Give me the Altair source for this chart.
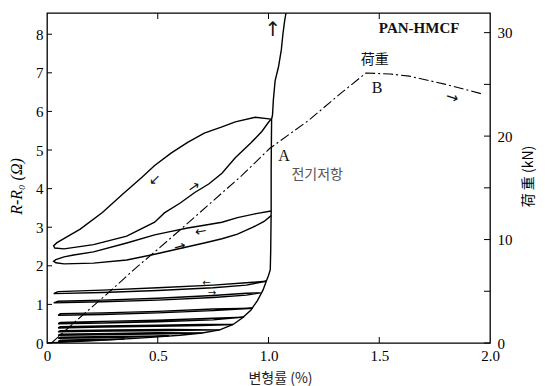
import altair as alt
import pandas as pd

# ---------------- data ----------------
# envelope of resistance (strain %, R-R0 ohm)
env_x = [0.0, 0.1, 0.2, 0.3, 0.4, 0.5, 0.6, 0.7, 0.78, 0.84, 0.88, 0.92, 0.95, 0.975, 0.99, 1.0,
         1.008, 1.01, 1.012, 1.012, 1.014, 1.018, 1.022, 1.03, 1.045, 1.058, 1.065, 1.073, 1.079]
env_y = [0.0, 0.03, 0.06, 0.09, 0.12, 0.16, 0.2, 0.26, 0.34, 0.48, 0.64, 0.85, 1.1, 1.37, 1.6, 1.75,
         1.9, 2.4, 3.4, 4.5, 5.8, 5.9, 6.3, 6.8, 7.15, 7.6, 8.0, 8.35, 8.55]

# top hysteresis loop (unload upper branch, reload lower branch)
top_x = [1.012, 0.94, 0.85, 0.79, 0.71, 0.635, 0.56, 0.486, 0.43, 0.34, 0.25, 0.15, 0.08, 0.045, 0.03,
         0.035, 0.077, 0.21, 0.36, 0.486, 0.53, 0.6, 0.667, 0.73, 0.79, 0.85, 0.92, 0.97, 1.0, 1.012]
top_y = [5.8, 5.85, 5.73, 5.6, 5.44, 5.2, 4.92, 4.6, 4.3, 3.85, 3.38, 2.95, 2.72, 2.6, 2.52,
         2.46, 2.44, 2.55, 2.77, 3.13, 3.37, 3.62, 3.9, 4.12, 4.4, 4.8, 5.18, 5.48, 5.72, 5.8]

# middle hysteresis loop
mid_x = [1.012, 0.95, 0.86, 0.79, 0.71, 0.635, 0.55, 0.486, 0.36, 0.21, 0.12, 0.077, 0.04, 0.03,
         0.04, 0.077, 0.21, 0.36, 0.486, 0.61, 0.71, 0.79, 0.86, 0.93, 0.98, 1.012]
mid_y = [3.42, 3.36, 3.25, 3.13, 3.05, 2.98, 2.88, 2.8, 2.59, 2.36, 2.28, 2.23, 2.16, 2.12,
         2.08, 2.05, 2.07, 2.15, 2.3, 2.46, 2.59, 2.7, 2.82, 3.0, 3.15, 3.3]

# thin low-strain loops: (x, y) going out along the lower line and back along the upper line
h1_x = [0.03, 0.25, 0.5, 0.75, 0.9, 0.99, 0.9, 0.75, 0.5, 0.25, 0.05, 0.03]
h1_y = [1.28, 1.31, 1.36, 1.43, 1.5, 1.6, 1.56, 1.5, 1.43, 1.37, 1.33, 1.28]
h2_x = [0.03, 0.25, 0.5, 0.75, 0.9, 0.965, 0.9, 0.75, 0.5, 0.25, 0.05, 0.03]
h2_y = [1.04, 1.07, 1.11, 1.18, 1.24, 1.3, 1.29, 1.23, 1.16, 1.11, 1.08, 1.04]
h3_x = [0.05, 0.25, 0.5, 0.75, 0.93, 0.75, 0.5, 0.25, 0.06, 0.05]
h3_y = [0.72, 0.74, 0.78, 0.84, 0.9, 0.88, 0.82, 0.78, 0.76, 0.72]
h4_x = [0.05, 0.25, 0.5, 0.75, 0.89, 0.75, 0.5, 0.25, 0.06, 0.05]
h4_y = [0.5, 0.52, 0.55, 0.6, 0.67, 0.64, 0.59, 0.56, 0.53, 0.5]
h5_x = [0.05, 0.25, 0.5, 0.7, 0.84, 0.7, 0.5, 0.25, 0.06, 0.05]
h5_y = [0.39, 0.41, 0.43, 0.45, 0.48, 0.48, 0.46, 0.44, 0.42, 0.39]
h6_x = [0.05, 0.3, 0.55, 0.78, 0.55, 0.3, 0.06, 0.05]
h6_y = [0.29, 0.31, 0.32, 0.34, 0.35, 0.34, 0.32, 0.29]
h7_x = [0.05, 0.3, 0.55, 0.7, 0.5, 0.3, 0.06, 0.05]
h7_y = [0.2, 0.22, 0.24, 0.26, 0.27, 0.25, 0.23, 0.2]
h8_x = [0.05, 0.3, 0.55, 0.3, 0.06, 0.05]
h8_y = [0.12, 0.14, 0.18, 0.17, 0.15, 0.12]
h9_x = [0.05, 0.2, 0.35, 0.2, 0.06, 0.05]
h9_y = [0.04, 0.07, 0.1, 0.09, 0.07, 0.04]

# load curve (strain %, kN)
load_x = [0.02, 0.135, 0.29, 0.39, 0.486, 0.61, 0.88, 1.005, 1.18, 1.33, 1.44, 1.55, 1.635, 1.80, 1.96]
load_kn = [0.0, 2.2, 5.1, 7.05, 8.8, 11.1, 16.2, 18.8, 21.5, 24.2, 26.1, 26.0, 25.8, 25.0, 24.1]

# tick values
x_ticks = [0, 0.5, 1.0, 1.5, 2.0]
x_inner_ticks = [0.5, 1.0, 1.5]
r_ticks = [0, 1, 2, 3, 4, 5, 6, 7, 8]
kn_labels = [0, 10, 20, 30]
kn_ticks = [0, 5, 10, 15, 20, 25, 30]

# annotations
serif_txt = ["PAN-HMCF", "A", "B"]
serif_x = [1.68, 1.07, 1.49]
serif_y = [8.16, 4.84, 6.61]
serif_w = ["bold", "normal", "normal"]
cjk_txt = ["荷重", "전기저항"]
cjk_x = [1.48, 1.22]
cjk_y = [7.33, 4.35]
cjk_col = ["#111111", "#555555"]
arrow_txt = ["↑", "→", "←", "→", "←", "→", "←", "→"]
arrow_x = [1.02, 1.83, 0.488, 0.664, 0.695, 0.60, 0.72, 0.745]
arrow_y = [8.1, 6.37, 4.22, 4.04, 2.88, 2.49, 1.56, 1.30]
arrow_a = [0, 18, 315, 326, 350, 345, 0, 0]
arrow_s = [20, 15, 14, 14, 14, 14, 10, 10]

# ---------------- tables ----------------
rows = []
series = [("env", env_x, env_y), ("top", top_x, top_y), ("mid", mid_x, mid_y),
          ("h1", h1_x, h1_y), ("h2", h2_x, h2_y), ("h3", h3_x, h3_y), ("h4", h4_x, h4_y),
          ("h5", h5_x, h5_y), ("h6", h6_x, h6_y), ("h7", h7_x, h7_y), ("h8", h8_x, h8_y),
          ("h9", h9_x, h9_y)]
for name, xs, ys in series:
    for i, (a, b) in enumerate(zip(xs, ys)):
        rows.append({"s": name, "i": i, "x": a, "y": b})
df_res = pd.DataFrame(rows)
df_load = pd.DataFrame({"x": load_x, "kn": load_kn, "i": list(range(len(load_x)))})

W, H = 443, 330
xs_ = alt.Scale(domain=[0, 2], nice=False)
ys_ = alt.Scale(domain=[0, 8.55], nice=False)
ks_ = alt.Scale(domain=[0, 31.9], nice=False)

x_axis = alt.Axis(values=x_ticks, labelExpr="datum.value == 0 ? '0' : format(datum.value, '.1f')",
                  title="변형률 (%)", titleFont="Noto Sans CJK KR", titleFontSize=14,
                  titleFontWeight="normal", titleColor="#222222", titleX=233, titleY=35,
                  titleAlign="center", titleBaseline="middle", labelPadding=5)
y_axis = alt.Axis(values=r_ticks, title="R-R₀  (Ω)", titleFont="Liberation Serif",
                  titleFontStyle="italic", titleFontWeight="normal", titleFontSize=16,
                  titleAngle=270, titleX=-31, titleY=173, titleAlign="center",
                  titleBaseline="middle", labelPadding=4)
k_axis = alt.Axis(values=kn_labels, orient="right", title="荷 重  (kN)", titleFont="Noto Sans CJK KR",
                  titleFontSize=14, titleFontWeight="normal", titleAngle=270, titleX=38, titleY=163,
                  titleAlign="center", titleBaseline="middle", labelPadding=7)

res = alt.Chart(df_res).mark_line(color="black", strokeWidth=1.4, clip=True).encode(
    x=alt.X("x:Q", scale=xs_, axis=x_axis),
    y=alt.Y("y:Q", scale=ys_, axis=y_axis),
    detail="s:N", order="i:Q")

df_st = pd.DataFrame({"t": serif_txt, "x": serif_x, "y": serif_y, "w": serif_w})
st_bold = alt.Chart(df_st[df_st.w == "bold"]).mark_text(font="Liberation Serif", fontSize=15,
                                                        fontWeight="bold", color="#111111").encode(
    x=alt.X("x:Q", scale=xs_), y=alt.Y("y:Q", scale=ys_), text="t:N")
st_norm = alt.Chart(df_st[df_st.w == "normal"]).mark_text(font="Liberation Serif", fontSize=16,
                                                          color="#111111").encode(
    x=alt.X("x:Q", scale=xs_), y=alt.Y("y:Q", scale=ys_), text="t:N")
df_cjk = pd.DataFrame({"t": cjk_txt, "x": cjk_x, "y": cjk_y, "c": cjk_col})
cjk = alt.Chart(df_cjk).mark_text(font="Noto Sans CJK KR", fontSize=14).encode(
    x=alt.X("x:Q", scale=xs_), y=alt.Y("y:Q", scale=ys_), text="t:N",
    color=alt.Color("c:N", scale=None))
df_ar = pd.DataFrame({"t": arrow_txt, "x": arrow_x, "y": arrow_y, "a": arrow_a, "sz": arrow_s})
arrows = alt.Chart(df_ar).mark_text(font="DejaVu Sans", color="#111111").encode(
    x=alt.X("x:Q", scale=xs_), y=alt.Y("y:Q", scale=ys_), text="t:N",
    angle=alt.Angle("a:Q", scale=None), size=alt.Size("sz:Q", scale=None))

# inward tick marks
left_ticks = alt.Chart(pd.DataFrame({"v": r_ticks})).mark_rule(color="black", strokeWidth=1).encode(
    y=alt.Y("v:Q", scale=ys_), x=alt.value(0), x2=alt.value(5))
bot_ticks = alt.Chart(pd.DataFrame({"v": x_inner_ticks})).mark_rule(color="black", strokeWidth=1).encode(
    x=alt.X("v:Q", scale=xs_), y=alt.value(H), y2=alt.value(H - 6))
top_ticks = alt.Chart(pd.DataFrame({"v": x_inner_ticks})).mark_rule(color="black", strokeWidth=1).encode(
    x=alt.X("v:Q", scale=xs_), y=alt.value(0), y2=alt.value(6))

left_layer = alt.layer(res, st_bold, st_norm, cjk, arrows, left_ticks, bot_ticks, top_ticks)

load = alt.Chart(df_load).mark_line(color="black", strokeWidth=1.1, strokeDash=[10, 3, 2, 3]).encode(
    x=alt.X("x:Q", scale=xs_),
    y=alt.Y("kn:Q", scale=ks_, axis=k_axis),
    order="i:Q")
right_ticks = alt.Chart(pd.DataFrame({"kn": kn_ticks})).mark_rule(color="black", strokeWidth=1).encode(
    y=alt.Y("kn:Q", scale=ks_), x=alt.value(W), x2=alt.value(W - 6))
right_layer = alt.layer(load, right_ticks)

chart = alt.layer(left_layer, right_layer).resolve_scale(y="independent").properties(
    width=W, height=H,
    autosize=alt.AutoSizeParams(type="none"),
    padding={"left": 47, "top": 13, "right": 55, "bottom": 43},
    background="white",
).configure_view(stroke="black", strokeWidth=1.3).configure_axis(
    labelFont="Liberation Serif", labelFontSize=15, labelColor="black", ticks=False,
    domain=False, grid=False, labelFlush=False, labelOverlap=False)

chart.save("out.html", embed_options={"renderer": "svg", "actions": False})
